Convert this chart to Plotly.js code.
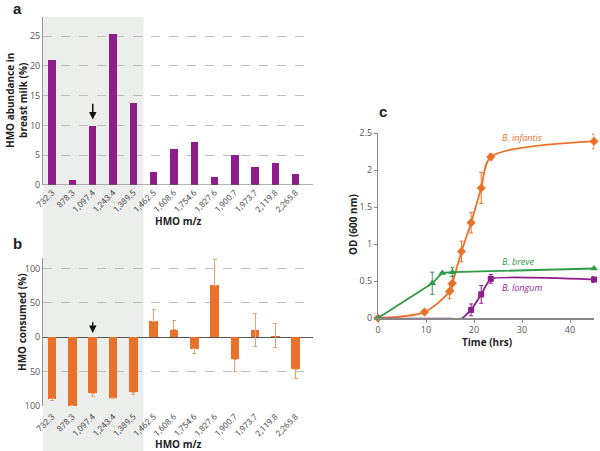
<!DOCTYPE html>
<html><head><meta charset="utf-8">
<script src="https://cdn.plot.ly/plotly-3.0.1.min.js"></script>
<style>body{margin:0;padding:0;background:#fff}#c{width:600px;height:451px}</style>
</head><body><div id="c"></div>
<script>
// ---- data ----
const mzLabels = ['732.3','878.3','1,097.4','1,243.4','1,389.5','1,462.5','1,608.6','1,754.6','1,827.6','1,900.7','1,973.7','2,119.8','2,265.8'];
const abundance = [21.0, 0.8, 9.9, 25.4, 13.8, 2.1, 6.1, 7.3, 1.3, 5.0, 3.0, 3.7, 1.8];
const consumed = [-90, -100, -82, -88, -80, 23, 11, -17, 76, -32, 10, 2, -47];
const consumedErrPlus = [0, 0, 0, 0, 0, 17, 13, 0, 38, 0, 24, 18, 0];
const consumedErrMinus = [3, 0, 4, 1, 4, 0, 0, 7, 0, 18, 23, 17, 14];
const infantisT = [0, 9.7, 14.9, 15.5, 17.4, 19.4, 21.5, 23.5, 45];
const infantisOD = [0, 0.08, 0.36, 0.47, 0.9, 1.29, 1.76, 2.18, 2.39];
const infantisErr = [0, 0.01, 0.1, 0.1, 0.14, 0.14, 0.21, 0.04, 0.1];
const breveT = [0, 11.3, 13.4, 15.5, 45];
const breveOD = [0, 0.47, 0.61, 0.62, 0.67];
const breveErr = [0, 0.15, 0, 0.06, 0.01];
const longumT = [0, 9.7, 12.0, 15.5, 17.4, 19.4, 21.5, 23.5, 45];
const longumOD = [-0.01, -0.01, -0.01, -0.01, -0.01, 0.11, 0.32, 0.53, 0.52];
const longumErr = [0, 0, 0, 0, 0, 0.08, 0.12, 0.06, 0.04];
const bAxisVals = [-100, -50, 0, 50, 100];
const bAxisText = ['100', '50', '0', '50', '100'];

const purple = '#8c1d8b', orange = '#e8722a', green = '#2f9a4a';
const tickFont = {family: 'Open Sans, Liberation Sans, sans-serif', size: 9, color: '#555'};
const catTickFont = {family: 'Liberation Sans Narrow, Roboto, sans-serif', size: 8.5, color: '#555'};
const W = 600, H = 451;
const px = v => v / W, py = v => 1 - v / H;
const cats = mzLabels.map((_, i) => i);

const traces = [
  {type: 'bar', x: cats, y: abundance, xaxis: 'x', yaxis: 'y', width: 0.36,
   marker: {color: purple}, hoverinfo: 'none'},
  {type: 'bar', x: cats, y: consumed, xaxis: 'x2', yaxis: 'y2', width: 0.42,
   marker: {color: orange},
   error_y: {type: 'data', symmetric: false, array: consumedErrPlus, arrayminus: consumedErrMinus,
             color: '#f0a070', thickness: 1, width: 2}, hoverinfo: 'none'},
  {type: 'scatter', mode: 'lines+markers', x: infantisT, y: infantisOD, xaxis: 'x3', yaxis: 'y3',
   line: {color: orange, width: 1.8, shape: 'spline', smoothing: 0.8},
   marker: {symbol: 'diamond', size: 7, color: orange},
   error_y: {type: 'data', array: infantisErr, color: orange, thickness: 1, width: 2},
   cliponaxis: false, hoverinfo: 'none'},
  {type: 'scatter', mode: 'lines+markers', x: breveT, y: breveOD, xaxis: 'x3', yaxis: 'y3',
   line: {color: green, width: 1.8},
   marker: {symbol: 'triangle-up', size: 7, color: green},
   error_y: {type: 'data', array: breveErr, color: green, thickness: 1, width: 2},
   cliponaxis: false, hoverinfo: 'none'},
  {type: 'scatter', mode: 'lines+markers', x: longumT, y: longumOD, xaxis: 'x3', yaxis: 'y3',
   line: {color: purple, width: 1.8, shape: 'spline', smoothing: 0.35},
   marker: {symbol: 'square', size: 6, color: purple},
   error_y: {type: 'data', array: longumErr, color: purple, thickness: 1, width: 2},
   cliponaxis: false, hoverinfo: 'none'}
];

const catAxis = (dom, anchor, standoff) => ({
  domain: dom, anchor: anchor, range: [-0.45, 12.85], tickvals: cats, ticktext: mzLabels,
  tickangle: -45, tickfont: catTickFont, showgrid: false, zeroline: false, showline: false,
  ticks: '', ticklabelstandoff: standoff, fixedrange: true
});

const ann = (text, x, y, opts) => Object.assign({text: text, xref: 'paper', yref: 'paper', x: px(x), y: py(y),
  xanchor: 'center', yanchor: 'middle', showarrow: false,
  font: {family: 'Open Sans, sans-serif', size: 10, color: '#222'}}, opts || {});
const letterFont = {family: 'Liberation Sans, Arial, sans-serif', size: 15, color: '#222'};

const layout = {
  width: W, height: H, margin: {l: 0, r: 0, t: 0, b: 0}, showlegend: false,
  paper_bgcolor: '#fff', plot_bgcolor: 'rgba(0,0,0,0)', bargap: 0,
  xaxis: catAxis([px(43), px(313)], 'y', 0),
  yaxis: {domain: [py(185), py(17)], anchor: 'x', range: [0, 28.2], tickvals: [0, 5, 10, 15, 20, 25],
          tickfont: tickFont, showgrid: true, gridcolor: '#bdbdbd', griddash: 'dash', gridwidth: 1,
          showline: true, linecolor: '#999', linewidth: 1, zeroline: false, ticks: ''},
  xaxis2: catAxis([px(43), px(313)], 'y2', 3),
  yaxis2: {domain: [py(406), py(258)], anchor: 'x2', range: [-100.4, 115.5], tickvals: bAxisVals,
           ticktext: bAxisText, tickfont: tickFont, showgrid: true, gridcolor: '#bdbdbd', griddash: 'dash',
           showline: true, linecolor: '#999', linewidth: 1, zeroline: true, zerolinecolor: '#555',
           zerolinewidth: 1, ticks: ''},
  xaxis3: {domain: [px(378), px(594)], anchor: 'y3', range: [0, 45], tickvals: [0, 10, 20, 30, 40],
           tickfont: tickFont, showgrid: false, zeroline: false, showline: true, linecolor: '#888',
           linewidth: 1.5, ticks: 'outside', ticklen: 3, tickcolor: '#888'},
  yaxis3: {domain: [py(318), py(132.5)], anchor: 'x3', range: [0, 2.51], tickvals: [0, 0.5, 1, 1.5, 2, 2.5],
           ticktext: ['0', '0.5', '1', '1.5', '2', '2.5'],
           tickfont: tickFont, showgrid: false, zeroline: false, showline: true, linecolor: '#888',
           linewidth: 1, ticks: 'outside', ticklen: 3, tickcolor: '#888'},
  shapes: [
    {type: 'rect', xref: 'x', yref: 'paper', x0: -0.45, x1: 4.5, y0: 0, y1: py(17),
     fillcolor: '#eceeec', line: {width: 0}, layer: 'below'},
    {type: 'line', xref: 'x', yref: 'y', x0: -0.45, x1: 12.85, y0: 0, y1: 0,
     line: {color: '#666', width: 1}}
  ],
  annotations: [
    ann('<b>a</b>', 17, 9, {font: letterFont}),
    ann('<b>b</b>', 17, 243, {font: letterFont}),
    ann('<b>c</b>', 383, 112, {font: letterFont}),
    ann('<b>HMO abundance in<br>breast milk (%)</b>', 17, 101, {textangle: -90}),
    ann('<b>HMO consumed (%)</b>', 22, 322, {textangle: -90}),
    ann('<b>HMO m/z</b>', 178, 221),
    ann('<b>HMO m/z</b>', 178, 444),
    ann('<b>OD (600 nm)</b>', 353, 225, {textangle: -90}),
    ann('<b>Time (hrs)</b>', 487, 342),
    ann('<i>B. infantis</i>', 522, 138, {font: {family: 'Open Sans, sans-serif', size: 9, color: orange}}),
    ann('<i>B. breve</i>', 518, 261, {font: {family: 'Open Sans, sans-serif', size: 9, color: green}}),
    ann('<i>B. longum</i>', 522, 287, {font: {family: 'Open Sans, sans-serif', size: 9, color: purple}}),
    {text: '', xref: 'x', yref: 'y', x: 2, y: 11, axref: 'x', ayref: 'y', ax: 2, ay: 13.9,
     showarrow: true, arrowhead: 2, arrowsize: 1, arrowwidth: 1.5, arrowcolor: '#111'},
    {text: '', xref: 'x2', yref: 'y2', x: 2, y: 6, axref: 'x2', ayref: 'y2', ax: 2, ay: 24,
     showarrow: true, arrowhead: 2, arrowsize: 1, arrowwidth: 1.5, arrowcolor: '#111'}
  ]
};

Plotly.newPlot('c', traces, layout, {staticPlot: true, displayModeBar: false});
</script></body></html>
